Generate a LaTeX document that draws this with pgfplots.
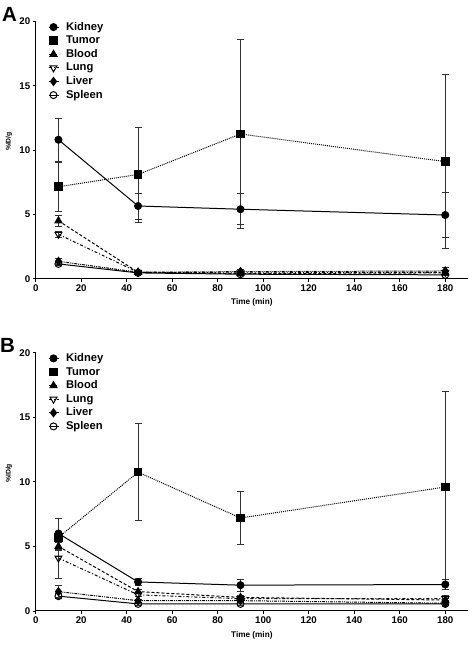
\documentclass[border=0pt]{standalone}
\usepackage{fontspec}
\setmainfont{Liberation Sans}
\usepackage{pgfplots}
\pgfplotsset{compat=1.18}
\pgfplotsset{
 myaxis/.style={
  scale only axis, width=432.3pt, height=257.3pt,
  xmin=0, xmax=190, ymin=0, ymax=20,
  axis lines=left, axis line style={-, line width=1pt},
  xtick={0,20,...,180}, ytick={0,5,10,15,20},
  tick align=outside, major tick length=3pt, tick style={line width=0.9pt, black},
  /pgf/number format/assume math mode=true,
  tick label style={font=\fontsize{9.7}{10}\selectfont\bfseries},
  xticklabel style={yshift=1pt},
  yticklabel style={xshift=1pt},
  xlabel={Time (min)}, ylabel={\%ID/g},
  xlabel style={font=\fontsize{8.2}{9}\selectfont\bfseries, yshift=-1pt},
  ylabel style={font=\fontsize{6.8}{8}\selectfont\bfseries, yshift=0.5pt, xshift=8.5pt},
  clip=false,
  legend style={draw=none, fill=none, at={(0.028,1.0)}, anchor=north west,
    font=\fontsize{11.2}{12}\selectfont\bfseries, inner xsep=0pt, inner ysep=0pt,
    nodes={inner sep=0.5pt, text height=8pt, text depth=2pt}, row sep=2.6pt, column sep=6.5pt},
  legend cell align=left,
  legend image code/.code={\draw[mark repeat=2,mark phase=2,##1] plot coordinates {(0pt,0pt) (5pt,0pt) (10pt,0pt)};},
 },
 eb/.style={error bars/.cd, y dir=both, y explicit,
   error bar style={solid, line width=0.7pt, black!80},
   error mark options={solid, rotate=90, mark size=3.5pt, line width=0.7pt, black!80}},
 kid/.style={black, line width=1pt, solid, mark=*, mark size=3.5pt, mark options={solid, fill=black}},
 tum/.style={black, line width=1pt, densely dotted, mark=square*, mark size=3.8pt, mark options={solid, fill=black}},
 blo/.style={black, line width=1pt, densely dashed, mark=triangle*, mark size=4pt, mark options={solid, fill=black}},
 lun/.style={black, line width=1pt, dashdotted, mark=triangle, mark size=4pt, mark options={solid, fill=white, rotate=180}},
 liv/.style={black, line width=1pt, densely dashdotdotted, mark=diamond*, mark size=4pt, mark options={solid, fill=black}},
 spl/.style={black, line width=1pt, solid, mark=o, mark size=3.5pt, mark options={solid, fill=white}},
}
\begin{document}
\begin{tikzpicture}[x=1pt,y=1pt]
\useasboundingbox (0,0) rectangle (475,645);
% Panel A
\begin{axis}[myaxis, at={(35.7pt,366.3pt)}, anchor=south west]
\addplot+[kid, eb] coordinates {(10,10.8) +- (0,1.65) (45,5.65) +- (0,1.0) (90,5.4) +- (0,1.2) (180,4.95) +- (0,1.75)};
\addlegendentry{Kidney}
\addplot+[tum, eb] coordinates {(10,7.15) +- (0,1.9) (45,8.1) +- (0,3.7) (90,11.25) +- (0,7.35) (180,9.1) +- (0,6.75)};
\addlegendentry{Tumor}
\addplot+[blo, eb] coordinates {(10,4.5) +- (0,0.4) (45,0.5) +- (0,0.1) (90,0.4) +- (0,0.1) (180,0.45) +- (0,0.15)};
\addlegendentry{Blood}
\addplot+[lun, eb] coordinates {(10,3.45) +- (0,0.25) (45,0.5) +- (0,0.1) (90,0.45) +- (0,0.1) (180,0.5) +- (0,0.15)};
\addlegendentry{Lung}
\addplot+[liv, eb] coordinates {(10,1.35) +- (0,0.25) (45,0.5) +- (0,0.1) (90,0.55) +- (0,0.15) (180,0.6) +- (0,0.25)};
\addlegendentry{Liver}
\addplot+[spl, eb] coordinates {(10,1.15) +- (0,0.15) (45,0.45) +- (0,0.05) (90,0.35) +- (0,0.05) (180,0.3) +- (0,0.05)};
\addlegendentry{Spleen}
\end{axis}
% Panel B
\begin{axis}[myaxis, at={(35.7pt,34pt)}, anchor=south west, height=258.3pt]
\addplot+[kid, eb] coordinates {(10,6.0) +- (0,1.2) (45,2.25) +- (0,0.3) (90,2.0) +- (0,0.45) (180,2.05) +- (0,0.4)};
\addlegendentry{Kidney}
\addplot+[tum, eb] coordinates {(10,5.7) +- (0,1.5) (45,10.75) +- (0,3.75) (90,7.2) +- (0,2.05) (180,9.6) +- (0,7.4)};
\addlegendentry{Tumor}
\addplot+[blo, eb] coordinates {(10,5.0) +- (0,0.3) (45,1.5) +- (0,0.15) (90,1.05) +- (0,0.15) (180,0.85) +- (0,0.15)};
\addlegendentry{Blood}
\addplot+[lun, eb] coordinates {(10,4.1) +- (0,1.6) (45,1.25) +- (0,0.15) (90,0.95) +- (0,0.2) (180,0.95) +- (0,0.25)};
\addlegendentry{Lung}
\addplot+[liv, eb] coordinates {(10,1.5) +- (0,0.45) (45,0.8) +- (0,0.1) (90,0.8) +- (0,0.15) (180,0.6) +- (0,0.2)};
\addlegendentry{Liver}
\addplot+[spl, eb] coordinates {(10,1.15) +- (0,0.2) (45,0.55) +- (0,0.1) (90,0.55) +- (0,0.1) (180,0.55) +- (0,0.1)};
\addlegendentry{Spleen}
\end{axis}
\node[font=\fontsize{20.5}{22}\selectfont\bfseries, inner sep=0pt] at (9.5,630.5) {A};
\node[font=\fontsize{20.5}{22}\selectfont\bfseries, inner sep=0pt] at (7.5,299.5) {B};
\end{tikzpicture}
\end{document}
